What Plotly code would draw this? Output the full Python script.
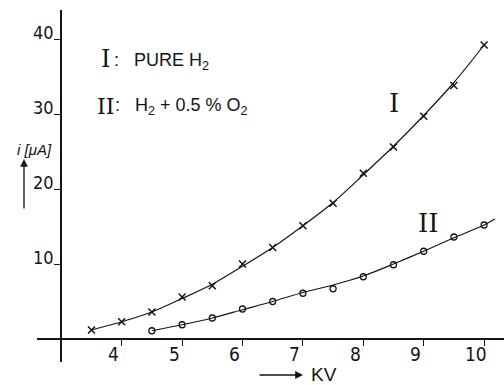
import plotly.graph_objects as go

# Ionisation current vs. applied voltage
kv_I = [3.5, 4, 4.5, 5, 5.5, 6, 6.5, 7, 7.5, 8, 8.5, 9, 9.5, 10]
i_I = [1.2, 2.3, 3.6, 5.6, 7.1, 10.0, 12.2, 15.1, 18.1, 22.1, 25.6, 29.7, 33.8, 39.2]
kv_II = [4.5, 5, 5.5, 6, 6.5, 7, 7.5, 8, 8.5, 9, 9.5, 10]
i_II = [1.1, 1.9, 2.8, 4.0, 5.0, 6.1, 6.7, 8.3, 9.9, 11.7, 13.6, 15.2]

# smooth hand-drawn curves through the measurements
curve_I_kv = [3.5, 4, 4.5, 5, 5.5, 6, 6.5, 7, 7.5, 8, 8.5, 9, 9.5, 10]
curve_I_i = [1.2, 2.3, 3.6, 5.4, 7.3, 9.7, 12.2, 15.1, 18.2, 21.9, 25.7, 29.8, 34.2, 39.2]
curve_II_kv = [4.5, 5, 5.5, 6, 6.5, 7, 7.5, 8, 8.5, 9, 9.5, 10, 10.18]
curve_II_i = [1.1, 1.9, 2.8, 3.9, 5.0, 6.2, 7.2, 8.4, 10.0, 11.7, 13.5, 15.2, 16.0]

x_ticks = [4, 5, 6, 7, 8, 9, 10]
x_tick_labels = ["4", "5", "6", "7", "8", "9", "10"]
y_ticks = [10, 20, 30, 40]
y_tick_labels = ["10", "20", "30", "40"]

W, H = 504, 385
L, R, T, B = 37, 0, 10, 23
PW, PH = W - L - R, H - T - B

X_RANGE = [2.598, 10.3295]
Y_RANGE = [-3.067, 43.867]

INK = "#151515"
DIGITS = "DejaVu Sans Condensed, Liberation Sans Narrow, Liberation Sans, sans-serif"
HAND = "Liberation Sans, sans-serif"
ROMAN = "DejaVu Serif, serif"
NB = "\u00a0"


def px(x):
    return (x - L) / PW


def py(y):
    return (H - B - y) / PH


fig = go.Figure()

fig.add_trace(go.Scatter(x=curve_I_kv, y=curve_I_i, mode="lines",
                         line=dict(color=INK, width=1.2, shape="spline", smoothing=0.8),
                         hoverinfo="skip"))
fig.add_trace(go.Scatter(x=curve_II_kv, y=curve_II_i, mode="lines",
                         line=dict(color=INK, width=1.2, shape="spline", smoothing=0.8),
                         hoverinfo="skip"))
fig.add_trace(go.Scatter(x=kv_I, y=i_I, mode="markers",
                         marker=dict(symbol="x-thin-open", size=7, color=INK,
                                     line=dict(color=INK, width=1.5))))
fig.add_trace(go.Scatter(x=kv_II, y=i_II, mode="markers",
                         marker=dict(symbol="circle-open", size=6, color=INK,
                                     line=dict(color=INK, width=1.3))))

annotations = [
    dict(x=px(105), y=py(59), text="I", font=dict(size=24, family=ROMAN)),
    dict(x=px(112), y=py(61), text=":" + NB * 3 + "PURE H<sub>2</sub>", xanchor="left",
         font=dict(size=18, family=HAND)),
    dict(x=px(105), y=py(106), text="II", font=dict(size=22, family=ROMAN)),
    dict(x=px(113), y=py(107), text=":" + NB * 3 + "H<sub>2</sub> + 0.5 % O<sub>2</sub>",
         xanchor="left", font=dict(size=18, family=HAND)),
    dict(x=px(394), y=py(103), text="I", font=dict(size=26, family=ROMAN)),
    dict(x=px(428), y=py(223), text="II", font=dict(size=26, family=ROMAN)),
    dict(x=px(34), y=py(149), text="<i>i [μA]</i>", font=dict(size=15, family=HAND)),
    dict(x=px(324), y=py(374), text="KV", font=dict(size=19, family=HAND)),
    dict(x=px(24), y=py(159), text="", showarrow=True, ax=0, ay=51,
         arrowhead=2, arrowsize=1.2, arrowwidth=1.3, arrowcolor=INK),
    dict(x=px(303), y=py(375), text="", showarrow=True, ax=-45, ay=0,
         arrowhead=2, arrowsize=1.2, arrowwidth=1.3, arrowcolor=INK),
]
# tick labels sit to the left of / above their tick marks
for v, t in zip(x_ticks, x_tick_labels):
    annotations.append(dict(x=v, xref="x", xshift=-8, y=py(354), text=t,
                            font=dict(size=19, family=DIGITS)))
for v, t in zip(y_ticks, y_tick_labels):
    annotations.append(dict(x=px(56), y=v, yref="y", yshift=7, xanchor="right", text=t,
                            font=dict(size=18, family=DIGITS)))

for a in annotations:
    a.setdefault("showarrow", False)
    a.setdefault("xref", "paper")
    a.setdefault("yref", "paper")
    a.setdefault("xanchor", "center")
    a.setdefault("yanchor", "middle")
    a.setdefault("font", {})
    a["font"].setdefault("color", INK)

fig.update_layout(
    width=W, height=H,
    margin=dict(l=L, r=R, t=T, b=B),
    paper_bgcolor="white", plot_bgcolor="white",
    showlegend=False,
    annotations=annotations,
    xaxis=dict(range=X_RANGE, anchor="free", position=py(339),
               showline=True, linewidth=2, linecolor=INK,
               ticks="outside", ticklen=6, tickwidth=1.4, tickcolor=INK,
               tickvals=x_ticks, showticklabels=False,
               showgrid=False, zeroline=False, fixedrange=True),
    yaxis=dict(range=Y_RANGE, anchor="free", position=px(61.3),
               showline=True, linewidth=2, linecolor=INK,
               ticks="outside", ticklen=6, tickwidth=1.4, tickcolor=INK,
               tickvals=y_ticks, showticklabels=False,
               showgrid=False, zeroline=False, fixedrange=True),
)

fig.write_html("out.html")
